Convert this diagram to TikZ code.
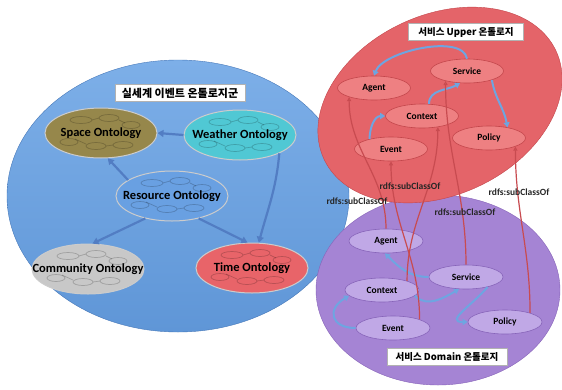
\documentclass[tikz,border=0pt]{standalone}
\usepackage{fontspec}
\setmainfont{Carlito}
\newfontfamily\kr{Noto Sans CJK KR}
\usetikzlibrary{shapes.geometric,arrows.meta}

\definecolor{bigblue}{RGB}{95,150,215}
\definecolor{bigbluetop}{RGB}{125,175,232}
\definecolor{bigblueline}{RGB}{70,120,185}
\definecolor{spacecol}{RGB}{150,135,75}
\definecolor{weathercol}{RGB}{80,200,212}
\definecolor{resourcecol}{RGB}{105,160,226}
\definecolor{communitycol}{RGB}{200,200,200}
\definecolor{timecol}{RGB}{232,100,105}
\definecolor{uppercol}{RGB}{228,100,105}
\definecolor{upnodecol}{RGB}{238,128,130}
\definecolor{upline}{RGB}{195,70,75}
\definecolor{domaincol}{RGB}{165,132,212}
\definecolor{dnnodecol}{RGB}{192,168,230}
\definecolor{dnline}{RGB}{135,100,185}
\definecolor{flowblue}{RGB}{110,165,225}
\definecolor{ontoarrow}{RGB}{82,125,195}
\definecolor{subline}{RGB}{200,75,80}

% faint inner graph of an ontology
\newcommand{\minigraph}[1]{%
  \begin{scope}[shift={(#1)},draw=black,draw opacity=.2,line width=.7pt]
    \draw (-20,13) ellipse (11 and 3.5);
    \draw (8,15) ellipse (10 and 3.5);
    \draw (30,8) ellipse (9 and 3.5);
    \draw (-32,-9) ellipse (9 and 3.5);
    \draw (-5,-13) ellipse (10 and 3.5);
    \draw (22,-12) ellipse (10 and 3.5);
    \draw (-9,13) -- (-2,15) (18,13) -- (24,10) (-26,-6) -- (-15,-11) (5,-13) -- (12,-12);
  \end{scope}}

\begin{document}
\begin{tikzpicture}[x=1pt,y=1pt,
    onto/.style={ellipse,draw=black!20,line width=1pt,minimum width=112pt,minimum height=50pt,
      inner xsep=-25pt,inner ysep=0pt,font=\fontsize{12.5}{14}\selectfont\bfseries},
    upnode/.style={ellipse,fill=upnodecol,draw=upline,line width=.6pt,minimum width=73pt,
      minimum height=24pt,inner sep=0pt,font=\fontsize{9.5}{11}\selectfont\bfseries},
    dnnode/.style={ellipse,fill=dnnodecol,draw=dnline,line width=.6pt,minimum width=74pt,
      minimum height=24pt,inner sep=0pt,font=\fontsize{9.5}{11}\selectfont\bfseries},
    title/.style={draw=black!30,fill=white,inner sep=1pt,minimum height=17pt},
    ontoflow/.style={draw=ontoarrow,line width=2.2pt,-{Triangle[length=6pt,width=7pt]}},
    flow/.style={draw=flowblue,line width=2pt,-{Triangle[length=5pt,width=6pt]}},
    subcl/.style={draw=subline,line width=1.2pt,-{Triangle[open,length=4pt,width=4pt]}},
    rdfs/.style={font=\fontsize{9.5}{11}\selectfont\bfseries,text=black!85,inner sep=1pt}]

  \useasboundingbox (0,0) rectangle (562,-389);
  \fill[white] (0,0) rectangle (562,-389);

  % areas
  \draw[draw=bigblueline,top color=bigbluetop,bottom color=bigblue] (178,-196) ellipse (171 and 136);
  \filldraw[fill=domaincol,draw=dnline] (438,-290) ellipse (122 and 95);
  \filldraw[fill=uppercol,draw=upline,rotate around={25:(440,-105)}] (440,-105) ellipse (128 and 90);

  % real-world event ontologies
  \node[title,minimum width=130pt,font=\kr\fontsize{11}{12}\selectfont\bfseries] (rtitle) at (180,-93) {실세계 이벤트 온톨로지군};
  \node[onto,fill=spacecol] (space) at (101,-133) {Space Ontology};
  \node[onto,fill=weathercol] (weather) at (240,-135) {Weather Ontology};
  \node[onto,fill=resourcecol] (resource) at (172,-196) {Resource Ontology};
  \node[onto,fill=communitycol] (community) at (88,-269) {Community Ontology};
  \node[onto,fill=timecol] (time) at (252,-268) {Time Ontology};

  \minigraph{space}
  \minigraph{weather}
  \minigraph{resource}
  \minigraph{community}
  \minigraph{time}

  \draw[ontoflow] (weather.west) -- (space.east);
  \draw[ontoflow] (resource.160) -- (space.-75);
  \draw[ontoflow] (resource.-140) -- (community.80);
  \draw[ontoflow] (resource.-40) -- (time.100);
  \draw[ontoflow] (weather.-25) to[out=-95,in=75] (time.75);

  % service upper ontology
  \node[title,minimum width=115pt,font=\kr\fontsize{9.5}{11}\selectfont\bfseries] (utitle) at (466,-32) {서비스 Upper 온톨로지};
  \node[upnode] (uService) at (467,-71) {Service};
  \node[upnode] (uAgent) at (374,-88) {Agent};
  \node[upnode] (uContext) at (422,-116) {Context};
  \node[upnode] (uPolicy) at (489,-138) {Policy};
  \node[upnode] (uEvent) at (391,-149) {Event};

  \draw[flow] (uService.north) to[out=100,in=70,looseness=.7] (uAgent.north);
  \draw[flow] (uContext.60) to[out=90,in=210] (uService.240);
  \draw[flow] (uService.-20) to[out=-80,in=100] (uPolicy.30);
  \draw[flow] (uEvent.155) to[out=90,in=180] (uContext.west);

  % service domain ontology
  \node[title,minimum width=120pt,font=\kr\fontsize{9.5}{11}\selectfont\bfseries] (dtitle) at (447,-357) {서비스 Domain 온톨로지};
  \node[dnnode] (dAgent) at (386,-241) {Agent};
  \node[dnnode] (dService) at (466,-277) {Service};
  \node[dnnode] (dContext) at (382,-290) {Context};
  \node[dnnode] (dEvent) at (393,-328) {Event};
  \node[dnnode] (dPolicy) at (505,-322) {Policy};

  \draw[flow] (dService.west) to[out=180,in=-45] (dAgent.-95);
  \draw[flow] (dContext.-10) to[out=-45,in=-150] (dService.-120);
  \draw[flow] (dService.-25) to[out=-130,in=180,looseness=1.5] (dPolicy.west);
  \draw[flow] (dEvent.west) to[out=180,in=210,looseness=2] (dContext.190);

  % subclass links
  \draw[subcl] (dAgent.north) to[out=90,in=-90] (uAgent.200);
  \draw[subcl] (dService.north) to[out=90,in=-90] (uService.205);
  \draw[subcl] (dContext.20) to[out=90,in=-90] (uContext.-35);
  \draw[subcl] (dEvent.18) to[out=90,in=-90] (uEvent.south);
  \draw[subcl] (dPolicy.20) to[out=90,in=-90] (uPolicy.-18);

  \node[rdfs] (rdfsA) at (357,-201) {rdfs:subClassOf};
  \node[rdfs] (rdfsB) at (410,-186) {rdfs:subClassOf};
  \node[rdfs] (rdfsC) at (465,-212) {rdfs:subClassOf};
  \node[rdfs] (rdfsD) at (519,-192) {rdfs:subClassOf};
\end{tikzpicture}
\end{document}
